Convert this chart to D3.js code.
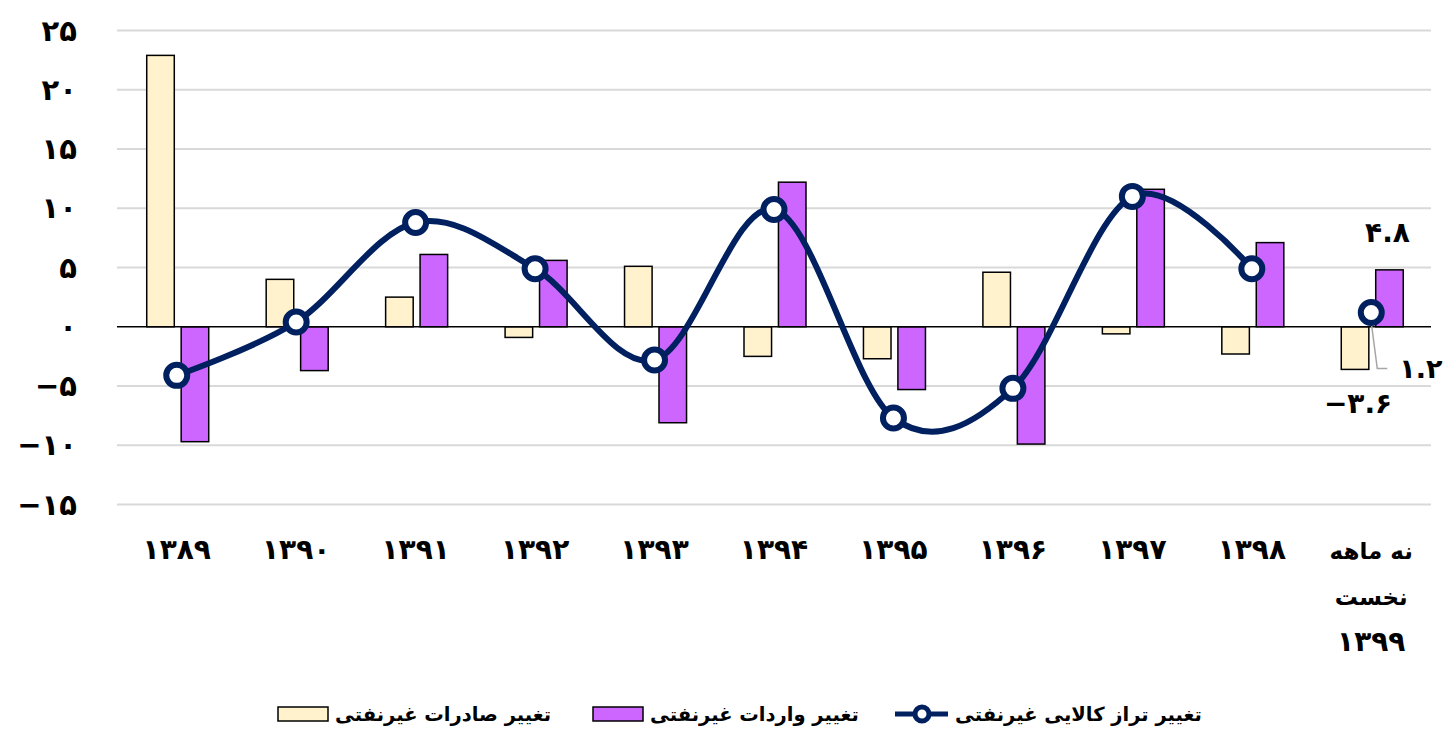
<!DOCTYPE html>
<html>
<head>
<meta charset="utf-8">
<script src="https://cdn.jsdelivr.net/npm/d3@7"></script>
<style>
	body { margin: 0; background: #fff; }
	text { font-family: "DejaVu Sans", sans-serif; font-weight: bold; fill: #000; }
</style>
</head>
<body>
<svg width="1452" height="733"></svg>
<script>
// Data
var categories = ["۱۳۸۹", "۱۳۹۰", "۱۳۹۱", "۱۳۹۲", "۱۳۹۳", "۱۳۹۴", "۱۳۹۵", "۱۳۹۶", "۱۳۹۷", "۱۳۹۸", "نه ماهه|نخست|۱۳۹۹"];
var exportsChange = [22.9, 4.0, 2.5, -0.9, 5.1, -2.5, -2.7, 4.6, -0.6, -2.3, -3.6];
var importsChange = [-9.7, -3.7, 6.1, 5.6, -8.1, 12.2, -5.3, -9.9, 11.6, 7.1, 4.8];
var balanceChange = [-4.1, 0.4, 8.8, 4.9, -2.8, 9.9, -7.7, -5.2, 11.0, 4.9, 1.2];
var yTicks = [-15, -10, -5, 0, 5, 10, 15, 20, 25];
var seriesNames = ["تغییر صادرات غیرنفتی", "تغییر واردات غیرنفتی", "تغییر تراز کالایی غیرنفتی"];

var exportColor = "#fff2cc";
var importColor = "#cc66ff";
var lineColor = "#002060";

var svg = d3.select("svg");

// Persian digits
function toFa(s) {
	return String(s).replace(/\d/g, (d) => "۰۱۲۳۴۵۶۷۸۹"[+d]).replace("-", "−");
}

var x0 = d3.scaleBand().domain(d3.range(categories.length)).range([117, 1431]);
var x1 = d3.scaleBand().domain(["exp", "imp"]).range([-30, 32]).paddingInner(0.2);
var y = d3.scaleLinear().domain([-15, 25]).range([504.5, 30.5]);
var cx = (i) => x0(i) + x0.bandwidth() / 2;

// Gridlines
svg.append("g")
	.selectAll("line")
	.data(yTicks.filter((t) => t !== 0))
	.join("line")
	.attr("x1", x0.range()[0])
	.attr("x2", x0.range()[1])
	.attr("y1", (t) => y(t))
	.attr("y2", (t) => y(t))
	.attr("stroke", "#d9d9d9")
	.attr("stroke-width", 2);

// Y tick labels
svg.append("g")
	.selectAll("text")
	.data(yTicks)
	.join("text")
	.attr("x", 77)
	.attr("y", (t) => y(t))
	.attr("dy", "0.35em")
	.attr("text-anchor", "end")
	.style("font-size", "29px")
	.text((t) => toFa(t));

// Bars
var bars = svg.append("g").attr("stroke", "#000").attr("stroke-width", 1.5);
bars.selectAll("rect.exp")
	.data(exportsChange)
	.join("rect")
	.attr("class", "exp")
	.attr("x", (d, i) => cx(i) + x1("exp"))
	.attr("y", (d) => y(Math.max(0, d)))
	.attr("width", x1.bandwidth())
	.attr("height", (d) => Math.abs(y(d) - y(0)))
	.attr("fill", exportColor);
bars.selectAll("rect.imp")
	.data(importsChange)
	.join("rect")
	.attr("class", "imp")
	.attr("x", (d, i) => cx(i) + x1("imp"))
	.attr("y", (d) => y(Math.max(0, d)))
	.attr("width", x1.bandwidth())
	.attr("height", (d) => Math.abs(y(d) - y(0)))
	.attr("fill", importColor);

// Zero line
svg.append("line")
	.attr("x1", x0.range()[0])
	.attr("x2", x0.range()[1])
	.attr("y1", y(0))
	.attr("y2", y(0))
	.attr("stroke", "#000")
	.attr("stroke-width", 1.5);

// X labels
svg.append("g")
	.selectAll("text")
	.data(categories)
	.join("text")
	.attr("x", (d, i) => cx(i))
	.attr("y", 559)
	.attr("text-anchor", "middle")
	.each(function (d, i) {
		var t = d3.select(this);
		d.split("|").forEach((part, k) => {
			t.append("tspan")
				.attr("x", cx(i))
				.attr("dy", k === 0 ? 0 : 46)
				.style("font-size", part.match(/[۰-۹]/) ? "28px" : "23px")
				.text(part);
		});
	});

// Leader line for last balance label
var last = balanceChange.length - 1;
svg.append("polyline")
	.attr("points", [
		[cx(last), y(balanceChange[last]) + 10],
		[cx(last) + 6, y(balanceChange[last]) + 56],
		[cx(last) + 16, y(balanceChange[last]) + 56],
	].join(" "))
	.attr("fill", "none")
	.attr("stroke", "#a6a6a6")
	.attr("stroke-width", 1.5);

// Balance line (the nine-month point stands alone)
var line = d3.line()
	.x((d, i) => cx(i))
	.y((d) => y(d))
	.curve(d3.curveCatmullRom.alpha(0));
svg.append("path")
	.datum(balanceChange.slice(0, last))
	.attr("d", line)
	.attr("fill", "none")
	.attr("stroke", lineColor)
	.attr("stroke-width", 6);
svg.append("g")
	.selectAll("circle")
	.data(balanceChange)
	.join("circle")
	.attr("cx", (d, i) => cx(i))
	.attr("cy", (d) => y(d))
	.attr("r", 10.5)
	.attr("fill", "#fff")
	.attr("stroke", lineColor)
	.attr("stroke-width", 6);

// Data labels for last category
var lbl = svg.append("g").style("font-size", "28px");
lbl.append("text")
	.attr("x", cx(last) + x1("imp") + x1.bandwidth() / 2 - 2)
	.attr("y", y(importsChange[last]) - 28)
	.attr("text-anchor", "middle")
	.text(toFa(importsChange[last]));
lbl.append("text")
	.attr("x", cx(last) + x1("exp") + x1.bandwidth() / 2 + 3)
	.attr("y", y(exportsChange[last]) + 44)
	.attr("text-anchor", "middle")
	.text(toFa(exportsChange[last]));
lbl.append("text")
	.attr("x", cx(last) + 28)
	.attr("y", y(balanceChange[last]) + 56)
	.attr("dy", "0.35em")
	.attr("text-anchor", "start")
	.style("font-size", "27px")
	.text(toFa(balanceChange[last]));

// Legend
var legend = svg.append("g").style("font-size", "19.5px");
var legendX = [278, 593, 895];
legendX.forEach((lx, k) => {
	var g = legend.append("g").attr("transform", `translate(${lx}, 714)`);
	if (k < 2) {
		g.append("rect")
			.attr("x", 0)
			.attr("y", -7)
			.attr("width", 50)
			.attr("height", 14)
			.attr("fill", k === 0 ? exportColor : importColor)
			.attr("stroke", "#000")
			.attr("stroke-width", 1.5);
	} else {
		g.append("line")
			.attr("x1", 0)
			.attr("x2", 53)
			.attr("stroke", lineColor)
			.attr("stroke-width", 5);
		g.append("circle")
			.attr("cx", 27)
			.attr("r", 7)
			.attr("fill", "#fff")
			.attr("stroke", lineColor)
			.attr("stroke-width", 5);
	}
	g.append("text")
		.attr("x", k < 2 ? 57 : 60)
		.attr("dy", "0.35em")
		.attr("text-anchor", "start")
		.text(seriesNames[k]);
});
</script>
</body>
</html>
